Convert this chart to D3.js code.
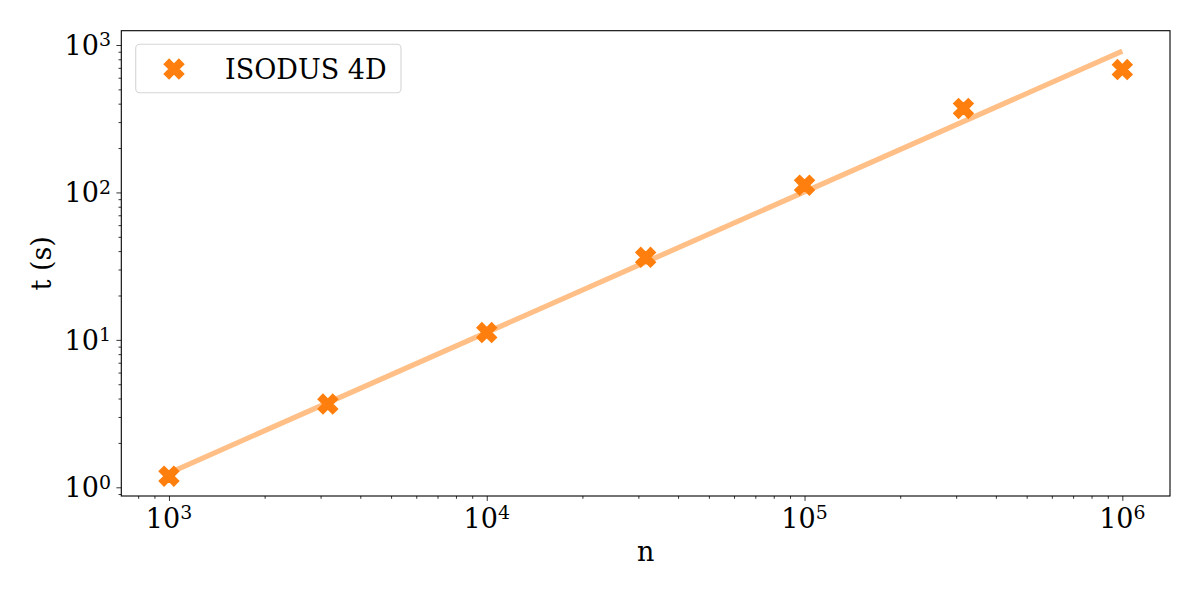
<!DOCTYPE html>
<html>
<head>
<meta charset="utf-8">
<script src="https://cdn.jsdelivr.net/npm/d3@7"></script>
<style>
  html, body { margin: 0; padding: 0; background: #fff; }
  svg { display: block; }
  text { font-family: "DejaVu Serif", serif; fill: #000; }
</style>
</head>
<body>
<svg id="chart" width="1200" height="600"></svg>
<script>
// ---- data ----
const seriesName = "ISODUS 4D";
const nValues = [1000, 3162, 10000, 31623, 100000, 316228, 1000000];
const tValues = [1.19, 3.67, 11.2, 36.3, 112, 371, 682];
const fitN = [1000, 1000000];
const fitT = [1.25, 908];
const xTickExps = [3, 4, 5, 6];
const yTickExps = [0, 1, 2, 3];
const xLabel = "n";
const yLabel = "t (s)";

// ---- layout ----
const svg = d3.select("#chart");
const L = 121.3, R = 1170, T = 30.7, B = 496;
const x = d3.scaleLog().domain([Math.pow(10, 2.85), Math.pow(10, 6.15)]).range([L, R]);
const y = d3.scaleLog().domain([Math.pow(10, -0.059), Math.pow(10, 3.097)]).range([B, T]);

const g = svg.append("g");

// fit line
g.append("path")
  .datum(fitN.map((n, i) => [n, fitT[i]]))
  .attr("fill", "none")
  .attr("stroke", "#ff7f0e")
  .attr("stroke-opacity", 0.5)
  .attr("stroke-width", 5.2)
  .attr("d", d3.line().x(d => x(d[0])).y(d => y(d[1])));

// filled X marker (matplotlib 'X')
const xVerts = [[-1,-2],[0,-1],[1,-2],[2,-1],[1,0],[2,1],[1,2],[0,1],[-1,2],[-2,1],[-1,0],[-2,-1]];
const markerSym = {
  draw(ctx, size) {
    const s = size / 4;
    xVerts.forEach((v, i) => i ? ctx.lineTo(v[0]*s, v[1]*s) : ctx.moveTo(v[0]*s, v[1]*s));
    ctx.closePath();
  }
};
const markerPath = d3.symbol().type(markerSym).size(19.5)();

g.selectAll("path.pt")
  .data(nValues.map((n, i) => [n, tValues[i]]))
  .join("path")
  .attr("class", "pt")
  .attr("transform", d => `translate(${x(d[0])},${y(d[1])})`)
  .attr("d", markerPath)
  .attr("fill", "#ff7f0e")
  .attr("stroke", "#ff7f0e")
  .attr("stroke-width", 1.4)
  .attr("stroke-linejoin", "miter");

// axes
const fs = 27;
function supLabel(sel, exp) {
  sel.text(null);
  sel.append("tspan").text("10");
  sel.append("tspan").attr("dy", "-0.45em").attr("font-size", fs * 0.7).text(exp);
}

const xAxis = d3.axisBottom(x).tickSizeOuter(0).tickValues(
  d3.range(2, 7).flatMap(e => d3.range(1, 10).map(k => k * Math.pow(10, e)))
    .filter(v => v >= x.domain()[0] && v <= x.domain()[1])
).tickFormat("");
const xg = svg.append("g").attr("transform", `translate(0,${B})`).call(xAxis);
xg.select(".domain").remove();
xg.selectAll(".tick line")
  .attr("stroke", "#000").attr("stroke-width", 0.8)
  .attr("y2", d => Math.abs(Math.log10(d) - Math.round(Math.log10(d))) < 1e-9 ? 4.9 : 2.8);

svg.append("g").selectAll("text.xt").data(xTickExps).join("text")
  .attr("class", "xt")
  .attr("x", e => x(Math.pow(10, e)))
  .attr("y", B + 32)
  .attr("text-anchor", "middle")
  .attr("font-size", fs)
  .each(function(e) { supLabel(d3.select(this), e); });

const yAxis = d3.axisLeft(y).tickSizeOuter(0).tickValues(
  d3.range(-1, 4).flatMap(e => d3.range(1, 10).map(k => k * Math.pow(10, e)))
    .filter(v => v >= y.domain()[0] && v <= y.domain()[1])
).tickFormat("");
const yg = svg.append("g").attr("transform", `translate(${L},0)`).call(yAxis);
yg.select(".domain").remove();
yg.selectAll(".tick line")
  .attr("stroke", "#000").attr("stroke-width", 0.8)
  .attr("x2", d => Math.abs(Math.log10(d) - Math.round(Math.log10(d))) < 1e-9 ? -4.9 : -2.8);

svg.append("g").selectAll("text.yt").data(yTickExps).join("text")
  .attr("class", "yt")
  .attr("x", 111)
  .attr("y", e => y(Math.pow(10, e)) + 10)
  .attr("text-anchor", "end")
  .attr("font-size", fs)
  .each(function(e) { supLabel(d3.select(this), e); });

// spines
svg.append("rect")
  .attr("x", L).attr("y", T).attr("width", R - L).attr("height", B - T)
  .attr("fill", "none").attr("stroke", "#000").attr("stroke-width", 1.1);

// axis labels
svg.append("text")
  .attr("x", (L + R) / 2).attr("y", 561)
  .attr("text-anchor", "middle").attr("font-size", fs)
  .text(xLabel);
svg.append("text")
  .attr("transform", `translate(51,${(T + B) / 2}) rotate(-90)`)
  .attr("text-anchor", "middle").attr("font-size", fs)
  .text(yLabel);

// legend
const lg = svg.append("g");
lg.append("rect")
  .attr("x", 135.7).attr("y", 44.3).attr("width", 265.3).attr("height", 48.4)
  .attr("rx", 4).attr("ry", 4)
  .attr("fill", "#fff").attr("fill-opacity", 0.8)
  .attr("stroke", "#d5d5d5").attr("stroke-width", 1.1);
lg.append("path")
  .attr("transform", "translate(174,69)")
  .attr("d", markerPath)
  .attr("fill", "#ff7f0e").attr("stroke", "#ff7f0e").attr("stroke-width", 1.4);
lg.append("text")
  .attr("x", 225).attr("y", 78.5)
  .attr("font-size", fs)
  .text(seriesName);
</script>
</body>
</html>
